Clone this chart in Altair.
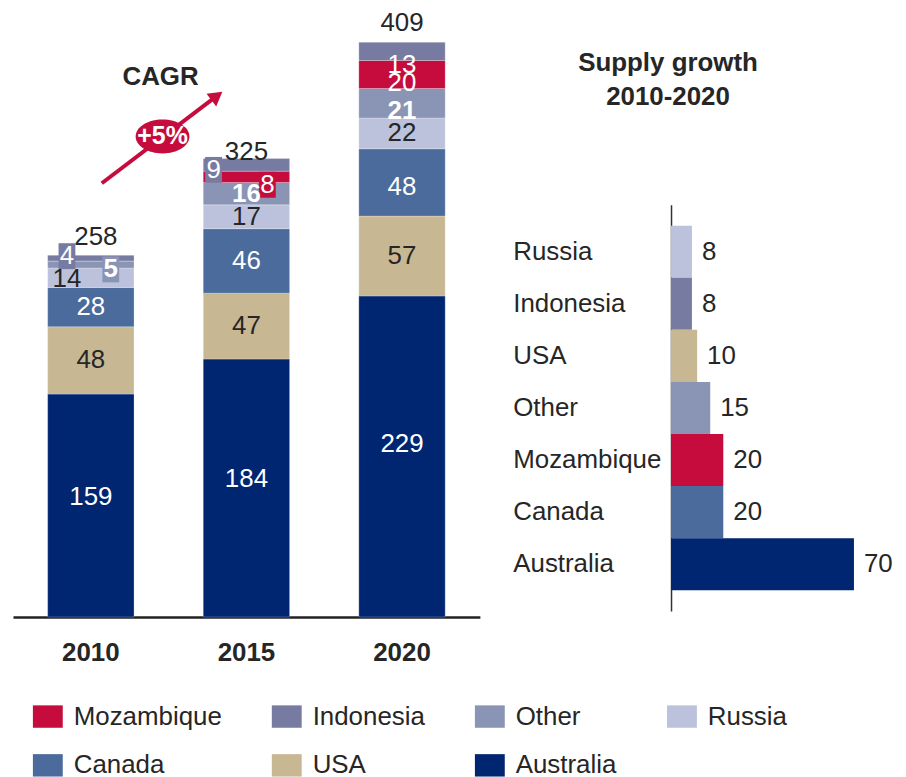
import altair as alt
import pandas as pd

# ---------------- data ----------------
years = ["2010", "2015", "2020"]
stack_order = ["Australia", "USA", "Canada", "Russia", "Other", "Mozambique", "Indonesia"]
australia = [159, 184, 229]
usa = [48, 47, 57]
canada = [28, 46, 48]
russia = [14, 17, 22]
other = [5, 16, 21]
mozambique = [0, 8, 20]
indonesia = [4, 9, 13]
totals = [258, 325, 409]

growth_countries = ["Russia", "Indonesia", "USA", "Other", "Mozambique", "Canada", "Australia"]
growth_values = [8, 8, 10, 15, 20, 20, 70]

legend_order = ["Mozambique", "Indonesia", "Other", "Russia", "Canada", "USA", "Australia"]

# ---------------- styles ----------------
FONT = "Liberation Sans"
DARK = "#262626"
CRIMSON = "#C60C3C"
palette = {
    "Mozambique": CRIMSON,
    "Indonesia": "#787BA1",
    "Other": "#8A94B4",
    "Russia": "#BCC2DC",
    "Canada": "#4A6B9B",
    "USA": "#C8B793",
    "Australia": "#002672",
}
dark_text = {"USA", "Russia"}
bold_text = {"Other"}
# pixel nudges for segment labels: (dx, dy, boxed)
nudges = {
    ("2010", "Australia"): (0, -9, False),
    ("2015", "Australia"): (0, -9, False),
    ("2020", "Australia"): (0, -13, False),
    ("2010", "Russia"): (-24, 1, False),
    ("2010", "Other"): (20, 5, True),
    ("2010", "Indonesia"): (-24, -2, True),
    ("2015", "Indonesia"): (-33, 5, True),
    ("2015", "Mozambique"): (21, 8, True),
    ("2020", "Indonesia"): (0, 14, False),
    ("2020", "Mozambique"): (0, 9, False),
    ("2020", "Other"): (0, 8, False),
    ("2020", "Canada"): (0, 5, False),
}
total_nudges = {"2010": (5, -18), "2015": (0, -9), "2020": (0, -21)}

series = {
    "Australia": australia, "USA": usa, "Canada": canada, "Russia": russia,
    "Other": other, "Mozambique": mozambique, "Indonesia": indonesia,
}
rows = []
for i, yr in enumerate(years):
    base = 0
    for c in stack_order:
        v = series[c][i]
        dx, dy, boxed = nudges.get((yr, c), (0, 0, False))
        rows.append(dict(
            year=yr, country=c, value=v, y0=base, y1=base + v, mid=base + v / 2,
            dx=dx, dy=dy, boxed=boxed,
            txtcolor=DARK if c in dark_text else "#ffffff",
            weight="bold" if c in bold_text else "normal",
            boxcolor=palette[c],
        ))
        base += v
df = pd.DataFrame(rows)
lab_df = df[df["value"] > 0]
box_df = lab_df[lab_df["boxed"]]

tot_df = pd.DataFrame({"year": years, "total": totals})
tot_df["dx"] = [total_nudges[y][0] for y in years]
tot_df["dy"] = [total_nudges[y][1] for y in years]

color_scale = alt.Scale(domain=legend_order, range=[palette[c] for c in legend_order])
RECT = "M-1,-0.75H1V0.75H-1Z"
BOX = "M-0.65,-1H0.65V1H-0.65Z"
ELLIPSE = "M-1,0 A1,0.63 0 1,0 1,0 A1,0.63 0 1,0 -1,0 Z"

# ---------------- left chart ----------------
# the plot area of the left panel shares its top edge with the right panel;
# taller stacks simply draw above it (same px-per-unit as the full chart)
x_enc = alt.X("year:N", scale=alt.Scale(domain=years, paddingInner=0.445, paddingOuter=0.223),
              axis=alt.Axis(title=None, labelAngle=0, labelFontSize=26, labelFontWeight="bold",
                            labelFont=FONT, labelColor=DARK, ticks=False, tickSize=0,
                            labelPadding=23, domainColor="#222222", domainWidth=2.5))
y_scale = alt.Scale(domain=[0, 294], nice=False, zero=True)

bars = alt.Chart(df).mark_bar(stroke="#ffffff", strokeWidth=0.4, strokeOpacity=0.6).encode(
    x=x_enc,
    y=alt.Y("y0:Q", scale=y_scale, axis=None),
    y2="y1:Q",
    color=alt.Color("country:N", scale=color_scale, legend=alt.Legend(
        orient="none", legendX=20, legendY=499, direction="horizontal", columns=4,
        title=None, symbolType=RECT, symbolSize=900, symbolStrokeWidth=0, symbolOpacity=1,
        labelFontSize=26, labelFont=FONT, labelColor=DARK, labelOffset=11,
        columnPadding=50, rowPadding=21, labelLimit=400)),
)

boxes = alt.Chart(box_df).mark_point(
    shape=BOX, filled=True, size=676, opacity=1, strokeWidth=0,
    xOffset={"expr": "datum.dx"}, yOffset={"expr": "datum.dy"},
    fill={"expr": "datum.boxcolor"},
).encode(x="year:N", y="mid:Q")

seg_labels = alt.Chart(lab_df).mark_text(
    font=FONT, fontSize=26, dx={"expr": "datum.dx"}, dy={"expr": "datum.dy"},
    fill={"expr": "datum.txtcolor"}, fontWeight={"expr": "datum.weight"},
).encode(x="year:N", y="mid:Q", text="value:Q")

tot_labels = alt.Chart(tot_df).mark_text(
    font=FONT, fontSize=26, color=DARK, dx={"expr": "datum.dx"}, dy={"expr": "datum.dy"},
).encode(x="year:N", y="total:Q", text="total:Q")

one = alt.InlineData(values=[{}])
arrow_line = alt.Chart(one).mark_rule(color=CRIMSON, strokeWidth=4, xOffset=11, x2Offset=-29.7).encode(
    x=alt.datum("2010", type="nominal"), x2=alt.datum("2015"),
    y=alt.datum(309.4, type="quantitative"), y2=alt.datum(371.7),
)
arrow_head = alt.Chart(one).mark_point(shape="triangle-up", filled=True, size=256, angle=52.6,
                                        color=CRIMSON, opacity=1, xOffset=-29.7).encode(
    x=alt.datum("2015", type="nominal"), y=alt.datum(371.7, type="quantitative"),
)
ellipse = alt.Chart(one).mark_point(shape=ELLIPSE, filled=True, size=2916, color=CRIMSON,
                                     opacity=1, xOffset=72).encode(
    x=alt.datum("2010", type="nominal"), y=alt.datum(342.8, type="quantitative"),
)
cagr_pct = alt.Chart(one).mark_text(text="+5%", font=FONT, fontSize=25, fontWeight="bold",
                                     color="#ffffff", dx=72).encode(
    x=alt.datum("2010", type="nominal"), y=alt.datum(342.8, type="quantitative"),
)
cagr_txt = alt.Chart(one).mark_text(text="CAGR", font=FONT, fontSize=26, fontWeight="bold",
                                     color=DARK, dx=70).encode(
    x=alt.datum("2010", type="nominal"), y=alt.datum(385.4, type="quantitative"),
)

left = alt.layer(bars, boxes, seg_labels, tot_labels, arrow_line, arrow_head, ellipse,
                 cagr_pct, cagr_txt).properties(width=469, height=414)

# ---------------- right chart ----------------
right_df = pd.DataFrame({"country": growth_countries, "value": growth_values})
ry = alt.Y("country:N", sort=growth_countries,
           scale=alt.Scale(paddingInner=0, paddingOuter=0.4),
           axis=alt.Axis(title=None, labelAlign="left", labelPadding=159, labelFontSize=26,
                         labelFont=FONT, labelColor=DARK, ticks=False, tickSize=0,
                         domainColor="#333333", domainWidth=1.5, labelLimit=400))
rx = alt.X("value:Q", scale=alt.Scale(domain=[0, 80], nice=False), axis=None)
rbars = alt.Chart(right_df).mark_bar().encode(
    y=ry, x=rx, color=alt.Color("country:N", scale=color_scale, legend=None))
rtext = alt.Chart(right_df).mark_text(align="left", dx=10, font=FONT, fontSize=26, color=DARK).encode(
    y=alt.Y("country:N", sort=growth_countries), x="value:Q", text="value:Q")

right = alt.layer(rbars, rtext).properties(
    width=210, height=408,
    title=alt.Title(["Supply growth", "2010-2020"], fontSize=26, font=FONT, fontWeight="bold",
                    color=DARK, anchor="middle", frame="group", dx=-108, offset=95, lineHeight=34),
)

chart = alt.hconcat(left, right, spacing=33).configure_view(stroke=None).properties(
    padding={"left": 5, "top": 0, "right": 5, "bottom": 5}
)

chart.save("out.html", embed_options={"renderer": "svg", "actions": False})
